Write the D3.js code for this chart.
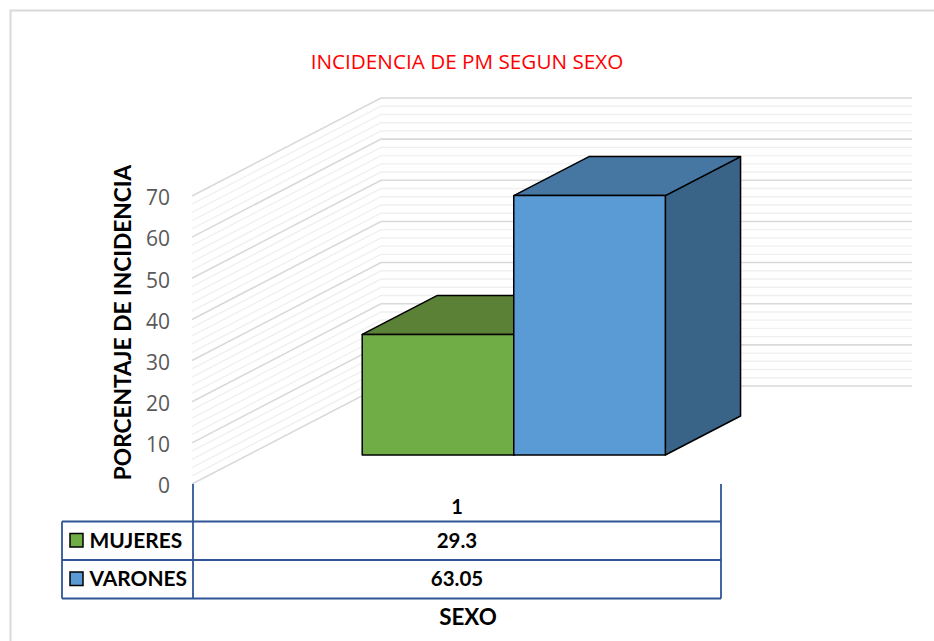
<!DOCTYPE html>
<html>
<head>
<meta charset="utf-8">
<script src="https://cdn.jsdelivr.net/npm/d3@7/dist/d3.min.js"></script>
<style>
html,body{margin:0;padding:0;background:#fff}
svg{display:block}
text{font-family:Lato,sans-serif}
</style>
</head>
<body>
<svg id="chart" width="934" height="641"></svg>
<script>
// Incidence by sex, drawn as a 3D column chart with a data table beneath it.
const chartTitle = "INCIDENCIA DE PM SEGUN SEXO";
const yAxisTitle = "PORCENTAJE DE INCIDENCIA";
const xAxisTitle = "SEXO";
const categories = ["1"];
const seriesNames = ["MUJERES", "VARONES"];
const seriesValues = [29.3, 63.05];
const seriesLabels = ["29.3", "63.05"];
const yTicks = [0, 10, 20, 30, 40, 50, 60, 70];
const frontColors = ["#70ad47", "#5b9bd5"];
const topColors = ["#5a8136", "#4676a2"];
const sideColors = ["#496d2e", "#396387"];

const svg = d3.select("#chart");

// Oblique projection: depth 0 is the front edge of the floor, 1 the back wall.
const depthX = 189, depthY = -98;
const y = d3.scaleLinear().domain([0, 70]).range([484, 196]);
const x = d3.scaleBand().domain(categories).range([192, 721]);
const project = (px, v, z) => [px + z * depthX, y(v) + z * depthY];

// Columns sit side by side inside the single category, at this depth span.
const barDepth = [0.296, 0.694];
const series = d3.scaleBand().domain(seriesNames)
  .range([x("1") + 0.216 * x.bandwidth(), x("1") + 0.789 * x.bandwidth()]);

// Chart area frame (top and left edges only)
svg.append("path")
  .attr("d", "M934,10.5H10.5V641")
  .attr("fill", "none").attr("stroke", "#d9d9d9").attr("stroke-width", 2);

svg.append("text")
  .attr("x", 467).attr("y", 68.5)
  .attr("text-anchor", "middle")
  .attr("font-size", 20.7)
  .attr("fill", "#ff0000")
  .style("font-family", '"Open Sans",sans-serif')
  .text(chartTitle);

// Gridlines on side wall and back wall: major every 10, minor every 2
const gridValues = d3.range(0, 70.01, 2);
const wallRight = 912;
const grid = svg.append("g").attr("fill", "none");
const line = d3.line();
const ordered = gridValues.slice().sort((a, b) => (a % 10 === 0) - (b % 10 === 0));
ordered.forEach(v => {
  const major = v % 10 === 0;
  grid.append("path")
    .attr("d", line([project(192, v, 0), project(192, v, 1), [wallRight, y(v) + depthY]]))
    .attr("stroke", major ? "#d9d9d9" : "#f0f0f0")
    .attr("stroke-width", major ? 1.6 : 1.4);
});

// Value axis labels
const yAxis = d3.axisLeft(y).tickValues(yTicks).tickSize(0).tickPadding(0).tickFormat(d3.format("d"));
const yG = svg.append("g").attr("transform", "translate(170,2)").call(yAxis);
yG.select(".domain").remove();
yG.selectAll("text")
  .attr("font-size", 21)
  .attr("fill", "#595959")
  .style("font-family", '"Open Sans",sans-serif');

svg.append("text")
  .attr("transform", "translate(131,322.5) rotate(-90)")
  .attr("text-anchor", "middle")
  .attr("font-size", 22.7)
  .attr("font-weight", 700)
  .attr("fill", "#000")
  .text(yAxisTitle);

// 3D columns, left one first so the right one overlaps it
const poly = pts => "M" + pts.map(p => p.join(",")).join("L") + "Z";
const bars = svg.append("g").attr("stroke", "#000").attr("stroke-width", 1.5).attr("stroke-linejoin", "round");
seriesNames.forEach((name, i) => {
  const v = seriesValues[i];
  const x0 = series(name), x1 = x0 + series.bandwidth();
  const [zf, zb] = barDepth;
  const face = (a, b) => poly([a[0], a[1], b[1], b[0]]);
  const frontL = [project(x0, 0, zf), project(x0, v, zf)];
  const frontR = [project(x1, 0, zf), project(x1, v, zf)];
  const backR = [project(x1, 0, zb), project(x1, v, zb)];
  const backL = [project(x0, 0, zb), project(x0, v, zb)];
  bars.append("path").attr("d", face(frontR, backR)).attr("fill", sideColors[i]);
  bars.append("path")
    .attr("d", poly([frontL[1], frontR[1], backR[1], backL[1]]))
    .attr("fill", topColors[i]);
  bars.append("path").attr("d", face(frontL, frontR)).attr("fill", frontColors[i]);
});

// Data table below the plot
const tableBlue = "#2f5597";
const tableLeft = 62, tableMid = x.range()[0] + 1, tableRight = x.range()[1];
const rowTop = 521.5, rowH = 38.5, axisTop = 484;
const table = svg.append("g").attr("stroke", tableBlue).attr("stroke-width", 1.8).attr("fill", "none");
d3.range(seriesNames.length + 1).forEach(i => {
  table.append("line")
    .attr("x1", tableLeft).attr("x2", tableRight)
    .attr("y1", rowTop + i * rowH).attr("y2", rowTop + i * rowH);
});
const tableBottom = rowTop + seriesNames.length * rowH;
table.append("line").attr("x1", tableLeft).attr("x2", tableLeft).attr("y1", rowTop).attr("y2", tableBottom);
table.append("line").attr("x1", tableMid).attr("x2", tableMid).attr("y1", axisTop).attr("y2", tableBottom);
table.append("line").attr("x1", tableRight).attr("x2", tableRight).attr("y1", axisTop).attr("y2", tableBottom);

const cellX = 457;
svg.append("text")
  .attr("x", cellX).attr("y", 514)
  .attr("text-anchor", "middle").attr("font-size", 20).attr("font-weight", 700)
  .text(categories[0]);

seriesNames.forEach((name, i) => {
  const base = rowTop + i * rowH + 26;
  svg.append("rect")
    .attr("x", 70).attr("y", rowTop + i * rowH + 12)
    .attr("width", 13).attr("height", 13.5)
    .attr("fill", frontColors[i])
    .attr("stroke", "#000").attr("stroke-width", 1.5);
  svg.append("text")
    .attr("x", 89.5).attr("y", base)
    .attr("font-size", 20.9).attr("font-weight", 700)
    .text(name);
  svg.append("text")
    .attr("x", cellX).attr("y", base)
    .attr("text-anchor", "middle").attr("font-size", 20.5).attr("font-weight", 700)
    .text(seriesLabels[i]);
});

svg.append("text")
  .attr("x", 468).attr("y", 625)
  .attr("text-anchor", "middle")
  .attr("font-size", 22.4).attr("font-weight", 700)
  .text(xAxisTitle);
</script>
</body>
</html>
